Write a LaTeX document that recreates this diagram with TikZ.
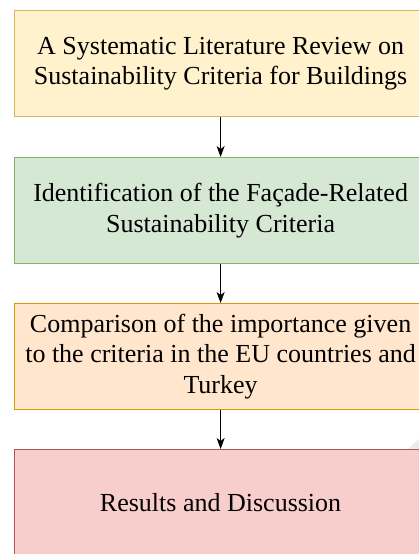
\documentclass[tikz,border=0pt]{standalone}
\usepackage{fontspec}
\setmainfont{Liberation Serif}
\usetikzlibrary{arrows.meta}
\definecolor{yfill}{HTML}{FFF2CC}\definecolor{ydraw}{HTML}{D6B656}
\definecolor{gfill}{HTML}{D5E8D4}\definecolor{gdraw}{HTML}{82B366}
\definecolor{ofill}{HTML}{FFE6CC}\definecolor{odraw}{HTML}{D79B00}
\definecolor{rfill}{HTML}{F8CECC}\definecolor{rdraw}{HTML}{B85450}
\tikzset{
  stagebox/.style={draw, line width=1.2pt, rectangle, inner sep=0pt, minimum width=412pt, minimum height=106pt, anchor=north west},
  stagetext/.style={inner sep=0pt, align=center, font=\fontsize{26pt}{30.5pt}\selectfont, text=black},
  flowarrow/.style={line width=1.2pt, -{Stealth[length=11pt,width=8pt,inset=3pt]}}
}
\begin{document}
\begin{tikzpicture}[x=1pt,y=1pt]
\useasboundingbox (0,0) rectangle (419,-554);
\clip (0,0) rectangle (419,-554);
\fill[white] (0,0) rectangle (419,-554);
\fill[black!8] (419,-439) -- (419,-449) -- (408,-449) -- cycle;
\node[stagebox, fill=yfill, draw=ydraw] (b1) at (14,-10) {};
\node[stagebox, fill=gfill, draw=gdraw] (b2) at (14,-157) {};
\node[stagebox, fill=ofill, draw=odraw] (b3) at (14,-303) {};
\node[stagebox, fill=rfill, draw=rdraw] (b4) at (14,-449) {};
\node[stagetext] (t1) at (b1.center) {A Systematic Literature Review on\\Sustainability Criteria for Buildings};
\node[stagetext] (t2) at (b2.center) {Identification of the Façade-Related\\Sustainability Criteria};
\node[stagetext] (t3) at (b3.center) {Comparison of the importance given\\to the criteria in the EU countries and\\Turkey};
\node[stagetext] (t4) at (b4.center) {Results and Discussion};
\draw[flowarrow] (b1.south) -- (b2.north);
\draw[flowarrow] (b2.south) -- (b3.north);
\draw[flowarrow] (b3.south) -- (b4.north);
\end{tikzpicture}
\end{document}
